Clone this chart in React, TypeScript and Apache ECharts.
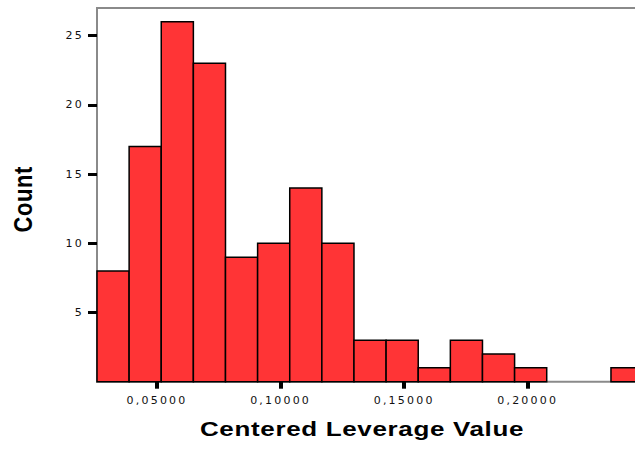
import React, { useEffect, useRef } from "react";
import * as echarts from "echarts";

// Histogram bins: equal width, starting at binStart
const binStart = 0.0257;
const binWidth = 0.013;
const counts = [8, 17, 26, 23, 9, 10, 14, 10, 3, 3, 1, 3, 2, 1, 0, 0, 1];

const xTicks = [0.05, 0.1, 0.15, 0.2];
const yTicks = [5, 10, 15, 20, 25];

const xTitle = "Centered Leverage Value";
const yTitle = "Count";

const fmtX = (v: number) => v.toFixed(5).replace(".", ",");

export default function App() {
  const ref = useRef<HTMLDivElement>(null);

  useEffect(() => {
    if (!ref.current) return;
    const chart = echarts.init(ref.current, undefined, { renderer: "svg" });

    const bins = counts
      .map((c, i) => [binStart + i * binWidth, binStart + (i + 1) * binWidth, c])
      .filter((d) => d[2] > 0);

    const xMin = binStart;
    const xMax = binStart + counts.length * binWidth;
    const pxPerUnit = 2471;

    chart.setOption({
      animation: false,
      grid: {
        left: 97,
        top: 8,
        height: 373.7,
        width: (xMax - xMin) * pxPerUnit,
        show: true,
        borderColor: "#8a8a8a",
        borderWidth: 2,
        backgroundColor: "#ffffff",
      },
      xAxis: {
        type: "value",
        min: xMin,
        max: xMax,
        splitLine: { show: false },
        axisLine: { show: false },
        axisTick: {
          show: true,
          customValues: xTicks,
          length: 7,
          lineStyle: { color: "#000", width: 4 },
        },
        axisLabel: {
          customValues: xTicks,
          formatter: fmtX,
          margin: 13,
          color: "#111",
          fontFamily: "DejaVu Sans",
          fontSize: 11,
        },
      },
      yAxis: {
        type: "value",
        min: 0,
        max: 27,
        splitLine: { show: false },
        axisLine: { show: false },
        axisTick: {
          show: true,
          customValues: yTicks,
          length: 9,
          lineStyle: { color: "#000", width: 3 },
        },
        axisLabel: {
          customValues: yTicks,
          margin: 13,
          color: "#111",
          fontFamily: "DejaVu Sans",
          fontSize: 11,
        },
      },
      graphic: [
        {
          type: "text",
          x: 362,
          y: 429.5,
          scaleX: 1.3,
          style: {
            text: xTitle,
            fontFamily: "Liberation Sans",
            fontWeight: "bold",
            fontSize: 20,
            fill: "#000",
            align: "center",
            verticalAlign: "middle",
          },
        },
        {
          type: "text",
          x: 22.8,
          y: 199.3,
          rotation: Math.PI / 2,
          scaleX: 1.1,
          scaleY: 1.28,
          style: {
            text: yTitle,
            fontFamily: "Liberation Sans",
            fontWeight: "bold",
            fontSize: 20,
            fill: "#000",
            align: "center",
            verticalAlign: "middle",
          },
        },
      ],
      series: [
        {
          type: "custom",
          data: bins,
          encode: { x: [0, 1], y: 2 },
          renderItem: (_params: any, api: any) => {
            const x0 = api.value(0);
            const x1 = api.value(1);
            const c = api.value(2);
            const pTop = api.coord([x0, c]);
            const pBot = api.coord([x1, 0]);
            return {
              type: "rect",
              shape: {
                x: pTop[0],
                y: pTop[1],
                width: pBot[0] - pTop[0],
                height: pBot[1] - pTop[1],
              },
              style: { fill: "#ff3436", stroke: "#000", lineWidth: 1.5 },
            };
          },
        },
      ],
    });

    return () => chart.dispose();
  }, []);

  return (
    <>
      <style>
        {".lev-chart text { letter-spacing: 2.2px; } .lev-chart text[style*='bold'] { letter-spacing: 0.5px; }"}
      </style>
      <div
        style={{
          position: "fixed",
          left: 0,
          top: 0,
          width: 635,
          height: 449,
          background: "#fff",
          overflow: "hidden",
        }}
      >
        <div ref={ref} className="lev-chart" style={{ width: 660, height: 449 }} />
      </div>
    </>
  );
}
